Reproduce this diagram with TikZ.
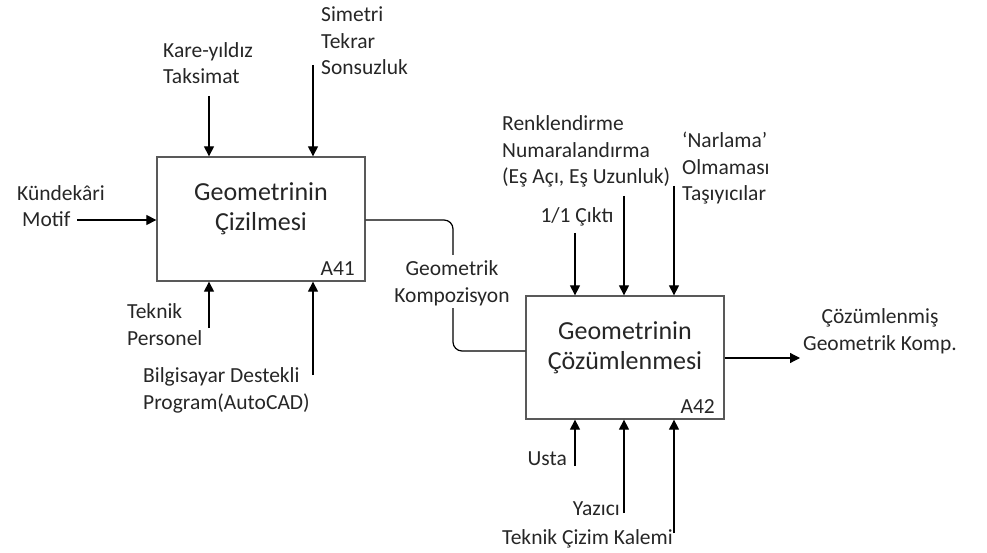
\documentclass[tikz,border=0pt]{standalone}
\usepackage{fontspec}
\setmainfont{Carlito}
\usetikzlibrary{arrows.meta}
\begin{document}
\begin{tikzpicture}[x=1pt,y=-1pt,
  actbox/.style={draw=black!65,line width=1.3pt,rectangle,inner sep=0pt},
  arr/.style={line width=1.2pt,-{Triangle[length=10pt,width=10pt]}},
  wire/.style={line width=1.2pt,rounded corners=9pt},
  lbl/.style={inner sep=0pt,font=\fontsize{21.5}{26.5}\selectfont,text=black!85},
  ttl/.style={inner sep=0pt,font=\fontsize{26}{30}\selectfont,align=center,text=black!85},
  code/.style={inner sep=0pt,font=\fontsize{21.5}{26}\selectfont,text=black!85}]
\useasboundingbox (0,0) rectangle (987,553);

% activity boxes
\node[actbox,minimum width=208pt,minimum height=124pt] (b1) at (261,219) {};
\node[actbox,minimum width=198pt,minimum height=123pt] (b2) at (625,357.5) {};

% titles (anchored at the baseline of the last line)
\node[ttl,anchor=base] (t1) at (261,231) {Geometrinin\\Çizilmesi};
\node[ttl,anchor=base] (t2) at (625,369) {Geometrinin\\Çözümlenmesi};
\node[code,anchor=base east] (a41) at (355,275) {A41};
\node[code,anchor=base east] (a42) at (715,413) {A42};

% labels of A41
\node[lbl,anchor=base west,align=left] (in1) at (17,227) {Kündekâri\\\hspace*{5pt}Motif};
\node[lbl,anchor=base west,align=left] (c1) at (163,84) {Kare-yıldız\\Taksimat};
\node[lbl,anchor=base west,align=left] (c2) at (321,75) {Simetri\\Tekrar\\Sonsuzluk};
\node[lbl,anchor=base west,align=left] (m1) at (127,345) {Teknik\\Personel};
\node[lbl,anchor=base west,align=left] (m2) at (143,409) {Bilgisayar Destekli\\Program(AutoCAD)};

% labels of A42
\node[lbl,anchor=base,align=center] (komp) at (452,302) {Geometrik\\Kompozisyon};
\node[lbl,anchor=base] (c3) at (577,223) {1/1 Çıktı};
\node[lbl,anchor=base west,align=left] (c4) at (502,184) {Renklendirme\\Numaralandırma\\(Eş Açı, Eş Uzunluk)};
\node[lbl,anchor=base west,align=left] (c5) at (682,201) {‘Narlama’\\Olmaması\\Taşıyıcılar};
\node[lbl,anchor=base east] (m3) at (567,465) {Usta};
\node[lbl,anchor=base east] (m4) at (620,515) {Yazıcı};
\node[lbl,anchor=base east] (m5) at (673,544) {Teknik Çizim Kalemi};
\node[lbl,anchor=base,align=center] (out) at (880,350) {Çözümlenmiş\\Geometrik Komp.};

% free ends of the arrows
\coordinate (e1) at (77,220);
\coordinate (e2) at (209,96);
\coordinate (e3) at (313,65);
\coordinate (e4) at (209,328);
\coordinate (e5) at (313,375);
\coordinate (e6) at (575,233);
\coordinate (e7) at (624,196);
\coordinate (e8) at (674,186);
\coordinate (e9) at (575,466);
\coordinate (e10) at (624,513);
\coordinate (e11) at (674,533);
\coordinate (e12) at (800,358);
\coordinate (k1) at (453,255);
\coordinate (k2) at (453,308);

% input, controls, mechanisms of A41
\draw[arr] (e1) -- (e1 -| b1.west);
\draw[arr] (e2) -- (e2 |- b1.north);
\draw[arr] (e3) -- (e3 |- b1.north);
\draw[arr] (e4) -- (e4 |- b1.south);
\draw[arr] (e5) -- (e5 |- b1.south);

% A41 output feeding A42
\draw[wire] (b1.east |- e1) -| (k1);
\draw[wire] (k2) |- (b2.west |- 0,351);

% controls, mechanisms, output of A42
\draw[arr] (e6) -- (e6 |- b2.north);
\draw[arr] (e7) -- (e7 |- b2.north);
\draw[arr] (e8) -- (e8 |- b2.north);
\draw[arr] (e9) -- (e9 |- b2.south);
\draw[arr] (e10) -- (e10 |- b2.south);
\draw[arr] (e11) -- (e11 |- b2.south);
\draw[arr] (b2.east |- e12) -- (e12);
\end{tikzpicture}
\end{document}
